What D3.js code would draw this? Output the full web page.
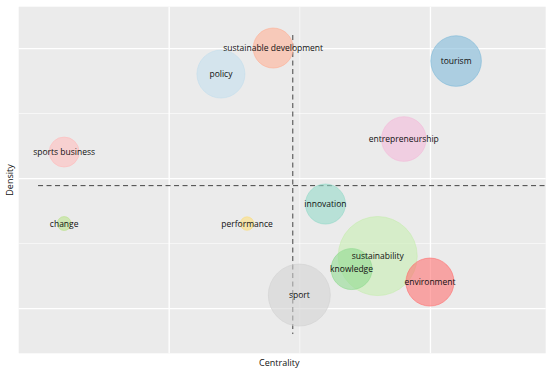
<!DOCTYPE html>
<html>
<head>
<meta charset="utf-8">
<script src="https://cdn.jsdelivr.net/npm/d3@7"></script>
<style>
  body { margin: 0; background: #ffffff; }
  text { font-family: "Open Sans", Verdana, Arial, sans-serif; }
</style>
</head>
<body>
<div id="chart"></div>
<script>
const WIDTH = 550;
const HEIGHT = 370;

const OFFSET_TOP = 6.7;
const OFFSET_BOTTOM = 16.7;
const OFFSET_LEFT = 18.7;
const OFFSET_RIGHT = 4.3;

// clusters of the thematic map
const themes = ["sustainable development", "policy", "sports business", "tourism",
  "entrepreneurship", "change", "performance", "innovation", "sustainability",
  "knowledge", "environment", "sport"];
const centrality = [9, 7, 1, 16, 14, 1, 8, 11, 13, 12, 15, 10];
const density = [20, 18, 12, 19, 13, 6.5, 6.5, 8, 4, 3, 2, 1];
const freq = [25.6, 36.9, 14.4, 41, 31.9, 3.1, 2.9, 25.6, 100, 26.9, 36.9, 61.6];
const colors = ["#ffaf94", "#c3deed", "#ffbcbc", "#7db9d9", "#f3b9d9", "#b9e189",
  "#fcdc78", "#93d9c8", "#c6edaf", "#8fda8f", "#ff6e6e", "#d2d2d2"];

// axis setup (no tick labels shown)
const xDomain = [-0.74, 19.43];
const yDomain = [-3.48, 23.18];
const xMajor = [5, 15];
const xMinor = [10];
const yMajor = [0, 10, 20];
const yMinor = [5, 15];

const data = themes.map((name, i) => ({
  name: name, x: centrality[i], y: density[i], size: freq[i], color: colors[i]
}));

const svg = d3.select("#chart").append("svg")
  .attr("width", WIDTH).attr("height", HEIGHT);

const xScale = d3.scaleLinear().domain(xDomain).range([OFFSET_LEFT, WIDTH - OFFSET_RIGHT]);
const yScale = d3.scaleLinear().domain(yDomain).range([HEIGHT - OFFSET_BOTTOM, OFFSET_TOP]);
const rScale = d3.scaleSqrt().domain([0, d3.max(freq)]).range([0, 39.5]);

// panel background
svg.append("rect")
  .attr("x", OFFSET_LEFT).attr("y", OFFSET_TOP)
  .attr("width", WIDTH - OFFSET_LEFT - OFFSET_RIGHT)
  .attr("height", HEIGHT - OFFSET_TOP - OFFSET_BOTTOM)
  .attr("fill", "#ebebeb");

// grid lines via axes
const plotW = WIDTH - OFFSET_LEFT - OFFSET_RIGHT;
const plotH = HEIGHT - OFFSET_TOP - OFFSET_BOTTOM;

function grid(axis, values, size, width, transform) {
  svg.append("g")
    .attr("transform", transform)
    .call(axis.tickValues(values).tickSize(size).tickFormat(""))
    .call(g => g.select(".domain").remove())
    .call(g => g.selectAll("line").attr("stroke", "#ffffff").attr("stroke-width", width));
}
grid(d3.axisLeft(yScale), yMinor, -plotW, 0.6, "translate(" + OFFSET_LEFT + ",0)");
grid(d3.axisBottom(xScale), xMinor, -plotH, 0.6, "translate(0," + (HEIGHT - OFFSET_BOTTOM) + ")");
grid(d3.axisLeft(yScale), yMajor, -plotW, 1.3, "translate(" + OFFSET_LEFT + ",0)");
grid(d3.axisBottom(xScale), xMajor, -plotH, 1.3, "translate(0," + (HEIGHT - OFFSET_BOTTOM) + ")");

// mean lines
const meanX = d3.mean(centrality);
const meanY = d3.mean(density);

svg.append("line")
  .attr("x1", xScale(0)).attr("x2", xScale(xDomain[1]))
  .attr("y1", yScale(meanY)).attr("y2", yScale(meanY))
  .attr("stroke", "#444").attr("stroke-width", 1).attr("stroke-dasharray", "5,3.5");

svg.append("line")
  .attr("x1", xScale(meanX)).attr("x2", xScale(meanX))
  .attr("y1", yScale(21)).attr("y2", yScale(-2))
  .attr("stroke", "#444").attr("stroke-width", 1).attr("stroke-dasharray", "5,3.5");

// bubbles
svg.selectAll(".bubble")
  .data(data)
  .enter()
  .append("circle")
  .attr("class", "bubble")
  .attr("cx", d => xScale(d.x))
  .attr("cy", d => yScale(d.y))
  .attr("r", d => rScale(d.size))
  .attr("fill", d => d.color)
  .attr("fill-opacity", 0.58)
  .attr("stroke", d => d.color)
  .attr("stroke-opacity", 0.6)
  .attr("stroke-width", 1);

// labels
svg.selectAll(".label")
  .data(data)
  .enter()
  .append("text")
  .attr("class", "label")
  .attr("x", d => xScale(d.x))
  .attr("y", d => yScale(d.y))
  .attr("dy", "0.35em")
  .attr("text-anchor", "middle")
  .style("font-size", "8.5px")
  .attr("fill", "#111")
  .text(d => d.name);

// axis titles
svg.append("text")
  .attr("x", OFFSET_LEFT + plotW / 2 - 3)
  .attr("y", HEIGHT - 4)
  .attr("text-anchor", "middle")
  .style("font-size", "9px")
  .attr("fill", "#111")
  .text("Centrality");

svg.append("text")
  .attr("transform", "translate(" + 13 + "," + (OFFSET_TOP + plotH / 2) + ") rotate(-90)")
  .attr("text-anchor", "middle")
  .style("font-size", "9px")
  .attr("fill", "#111")
  .text("Density");
</script>
</body>
</html>
